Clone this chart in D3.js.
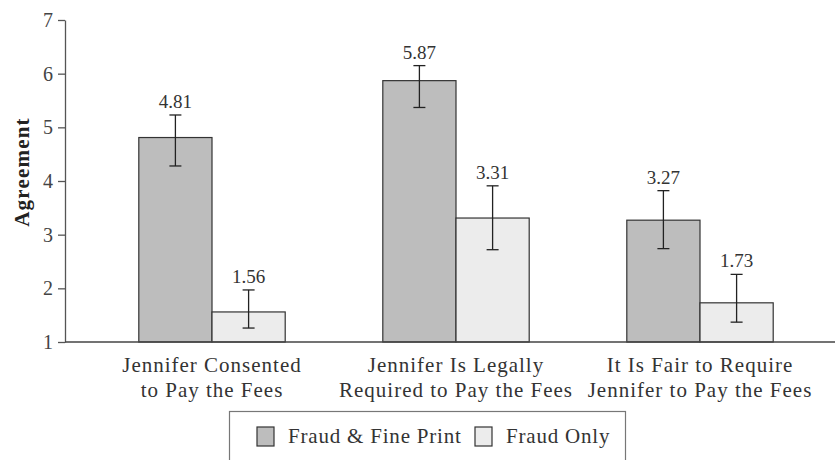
<!DOCTYPE html>
<html>
<head>
<meta charset="utf-8">
<script src="https://cdn.jsdelivr.net/npm/d3@7"></script>
<style>
  body { margin: 0; background: #fff; }
  svg text { font-family: 'Liberation Serif', 'DejaVu Serif', serif; }
</style>
</head>
<body>
<svg id="graph"></svg>
<script>
/* global d3 */
const categories = [
  ['Jennifer Consented', 'to Pay the Fees'],
  ['Jennifer Is Legally', 'Required to Pay the Fees'],
  ['It Is Fair to Require', 'Jennifer to Pay the Fees']
]
const seriesNames = ['Fraud & Fine Print', 'Fraud Only']
const fineMeans = [4.81, 5.87, 3.27]
const fineLow = [4.28, 5.37, 2.74]
const fineHigh = [5.23, 6.15, 3.82]
const onlyMeans = [1.56, 3.31, 1.73]
const onlyLow = [1.26, 2.72, 1.37]
const onlyHigh = [1.97, 3.91, 2.26]
const yTicks = [1, 2, 3, 4, 5, 6, 7]

const width = 835
const height = 460
const colors = ['#bdbdbd', '#ececec']
const serif = "'Liberation Serif', 'DejaVu Serif', serif"

const rows = []
categories.forEach((c, i) => {
  rows.push({ cat: i, s: 0, v: fineMeans[i], lo: fineLow[i], hi: fineHigh[i] })
  rows.push({ cat: i, s: 1, v: onlyMeans[i], lo: onlyLow[i], hi: onlyHigh[i] })
})

const svg = d3.select('#graph').attr('width', width).attr('height', height)

/** Scales */
const x = d3.scaleBand()
  .domain(d3.range(categories.length))
  .range([90, 822])
  .paddingInner(0.4)
  .paddingOuter(0.2)

const xs = d3.scaleBand()
  .domain([0, 1])
  .range([0, x.bandwidth()])

const y = d3.scaleLinear().domain([1, 7]).range([342, 20])

/** y axis */
const yAxis = svg.append('g')
  .attr('transform', 'translate(65,0)')
  .call(d3.axisLeft(y).tickValues(yTicks).tickFormat(d3.format('d'))
    .tickSize(7).tickPadding(5).tickSizeOuter(0))
yAxis.attr('font-family', serif)
yAxis.select('.domain').attr('stroke', '#555').attr('stroke-width', 1.3)
yAxis.selectAll('.tick line').attr('stroke', '#555').attr('stroke-width', 1.3)
yAxis.selectAll('.tick text')
  .attr('font-size', 20)
  .attr('fill', '#444')

svg.append('text')
  .attr('transform', 'translate(29,172) rotate(-90)')
  .attr('text-anchor', 'middle')
  .attr('font-size', 21)
  .attr('font-weight', 'bold')
  .attr('fill', '#222')
  .attr('letter-spacing', 1.2)
  .text('Agreement')

/** bars */
svg.selectAll('rect.bar')
  .data(rows)
  .enter()
  .append('rect')
  .attr('class', 'bar')
  .attr('x', d => x(d.cat) + xs(d.s))
  .attr('y', d => y(d.v))
  .attr('width', xs.bandwidth())
  .attr('height', d => y(1) - y(d.v))
  .attr('fill', d => colors[d.s])
  .attr('stroke', '#333')
  .attr('stroke-width', 1.2)

/** error bars */
const err = svg.selectAll('g.err')
  .data(rows)
  .enter()
  .append('g')
  .attr('class', 'err')
  .attr('stroke', '#222')
  .attr('stroke-width', 1.3)
const cx = d => x(d.cat) + xs(d.s) + xs.bandwidth() / 2
err.append('line')
  .attr('x1', cx).attr('x2', cx)
  .attr('y1', d => y(d.lo)).attr('y2', d => y(d.hi))
err.append('line')
  .attr('x1', d => cx(d) - 6).attr('x2', d => cx(d) + 6)
  .attr('y1', d => y(d.hi)).attr('y2', d => y(d.hi))
err.append('line')
  .attr('x1', d => cx(d) - 6).attr('x2', d => cx(d) + 6)
  .attr('y1', d => y(d.lo)).attr('y2', d => y(d.lo))

svg.selectAll('text.val')
  .data(rows)
  .enter()
  .append('text')
  .attr('class', 'val')
  .attr('x', cx)
  .attr('y', d => y(d.hi) - 7)
  .attr('text-anchor', 'middle')
  .attr('font-size', 19)
  .attr('fill', '#333')
  .text(d => d.v.toFixed(2))

/** x axis line */
svg.append('line')
  .attr('x1', 65).attr('x2', width)
  .attr('y1', y(1)).attr('y2', y(1))
  .attr('stroke', '#444')
  .attr('stroke-width', 1.5)

/** category labels */
const catText = svg.selectAll('text.cat')
  .data(categories)
  .enter()
  .append('text')
  .attr('class', 'cat')
  .attr('text-anchor', 'middle')
  .attr('font-size', 21)
  .attr('letter-spacing', 1)
  .attr('fill', '#333')
catText.selectAll('tspan')
  .data((d, i) => d.map(t => ({ t, i })))
  .enter()
  .append('tspan')
  .attr('x', d => x(d.i) + x.bandwidth() / 2)
  .attr('y', (d, j) => 372 + j * 25)
  .text(d => d.t)

/** legend */
svg.append('rect')
  .attr('x', 229.5).attr('y', 411.5)
  .attr('width', 396).attr('height', 60)
  .attr('fill', 'none')
  .attr('stroke', '#777')
  .attr('stroke-width', 1.2)
const legendX = [257, 475]
const item = svg.append('g').selectAll('g')
  .data(seriesNames)
  .enter()
  .append('g')
  .attr('transform', (d, i) => `translate(${legendX[i]},427)`)
item.append('rect')
  .attr('width', 17).attr('height', 19)
  .attr('fill', (d, i) => colors[i])
  .attr('stroke', '#333')
  .attr('stroke-width', 1.2)
item.append('text')
  .attr('x', 31).attr('y', 16)
  .attr('font-size', 21)
  .attr('letter-spacing', 0.8)
  .attr('fill', '#333')
  .text(d => d)
</script>
</body>
</html>
